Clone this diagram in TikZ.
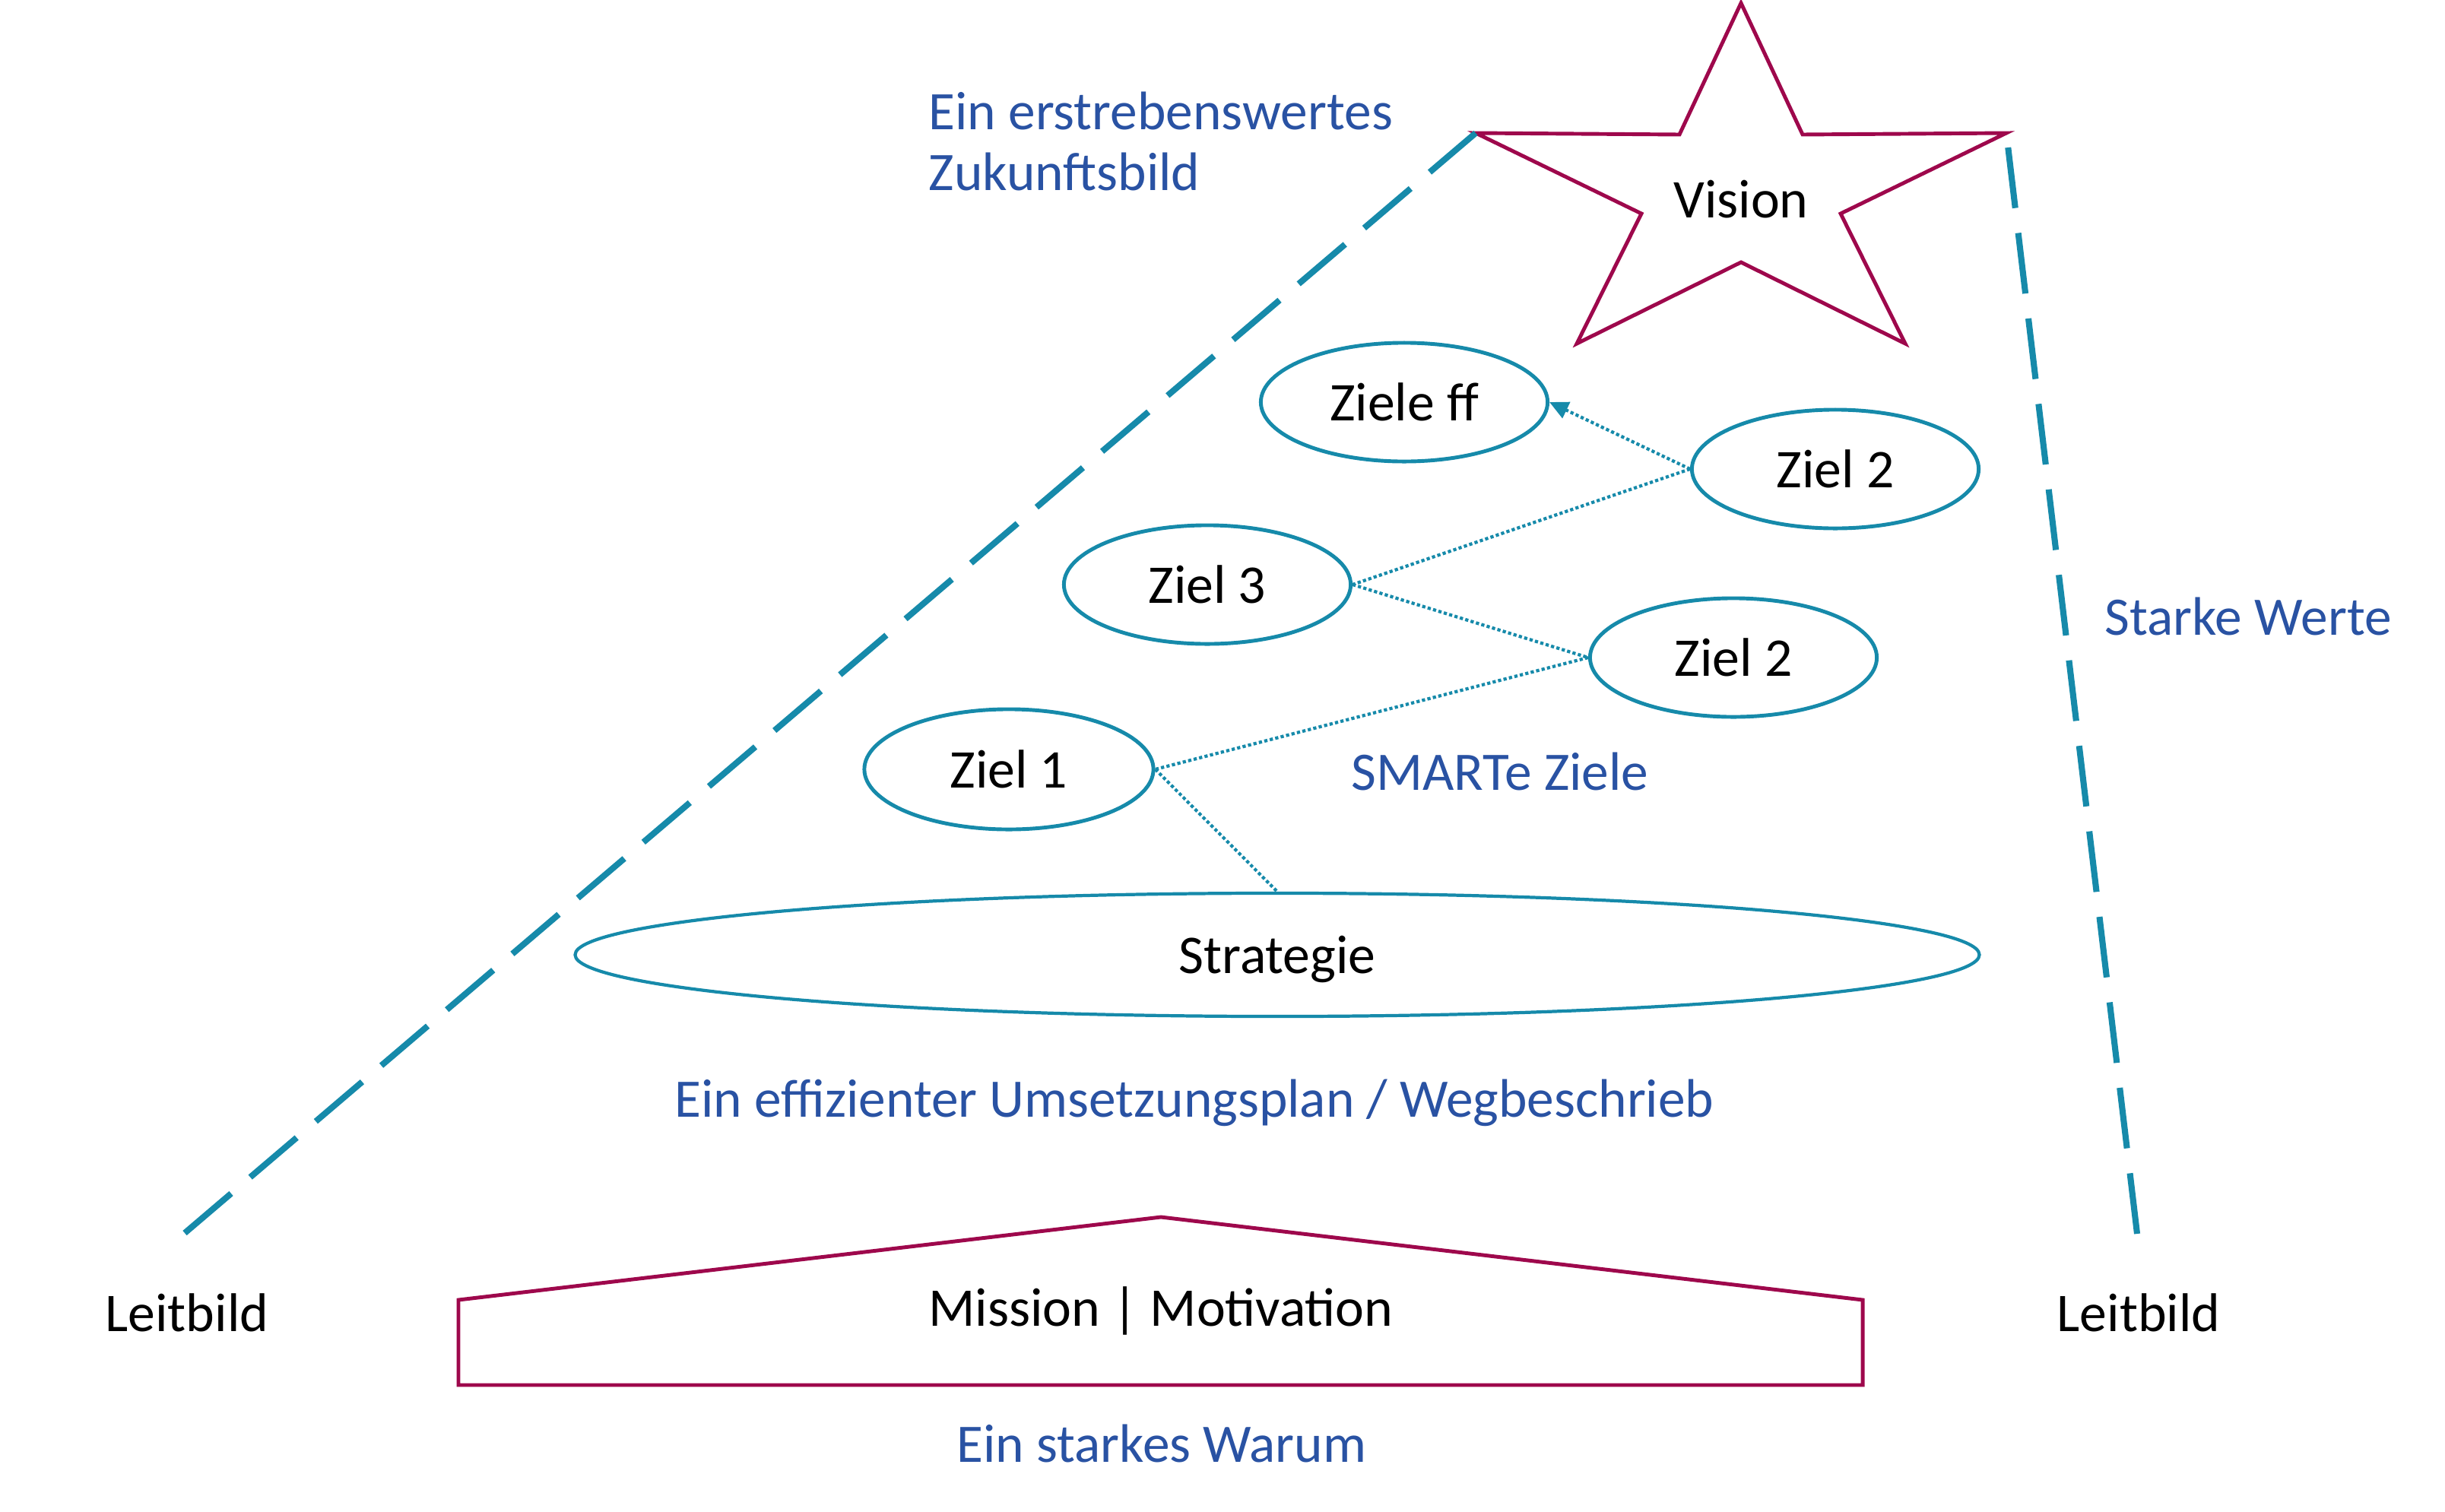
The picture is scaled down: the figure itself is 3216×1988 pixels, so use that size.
\documentclass[tikz,border=0pt]{standalone}
\usepackage{fontspec}
\setmainfont{Carlito}
\usetikzlibrary{shapes.geometric,arrows.meta}
\definecolor{tealline}{RGB}{22,138,170}
\definecolor{bluetxt}{RGB}{41,82,163}
\definecolor{magline}{RGB}{158,8,76}
\begin{document}
\begin{tikzpicture}[x=0.01cm,y=-0.01cm,
  goal/.style={ellipse, draw=tealline, line width=1.4pt, inner sep=0pt, text depth=0pt,
    minimum width=3.77cm, minimum height=1.56cm, font=\fontsize{20.4}{24}\selectfont},
  conn/.style={draw=tealline, line width=1.2pt, dash pattern=on 1.2pt off 0.9pt},
  frame/.style={draw=tealline, line width=2.3pt, dash pattern=on 22.8pt off 9.4pt},
  outline/.style={draw=magline, line width=1.4pt, line join=miter},
  blacktext/.style={font=\fontsize{20.4}{24}\selectfont, inner sep=0pt},
  bluetext/.style={text=bluetxt, font=\fontsize{20.3}{22.5}\selectfont, inner sep=0pt},
]
\useasboundingbox (0,0) rectangle (3216,1988);

% star (Vision)
\coordinate (tipL) at (1941,175);
\coordinate (tipR) at (2639,175);
\draw[outline] (2290,4) -- (2371,177) -- (tipR) -- (2421,281) -- (2506,452)
  -- (2290,345) -- (2074,452) -- (2159,281) -- (tipL) -- (2209,177) -- cycle;
\node[blacktext, anchor=base] (vision) at (2290,286) {Vision};

% frame lines
\coordinate (baseL) at (243,1622);
\coordinate (baseR) at (2811,1623);
\draw[frame] (baseL) -- (tipL);
\draw[frame] (baseR) -- (tipR);

% goals
\node[goal] (zff) at (1847,529) {Ziele ff};
\node[goal] (z2a) at (2414,617) {Ziel 2};
\node[goal] (z3) at (1588,769) {Ziel 3};
\node[goal] (z2b) at (2280,865) {Ziel 2};
\node[goal, minimum width=3.8cm, minimum height=1.58cm] (z1) at (1327,1012) {Ziel 1};
\node[goal, minimum width=18.46cm, minimum height=1.62cm, line width=1.2pt] (strat) at (1680,1256) {Strategie};

\draw[conn, -{Triangle[length=7pt,width=6.5pt]}] (z2a.west) -- (zff.east);
\draw[conn] (z2a.west) -- (z3.east);
\draw[conn] (z3.east) -- (z2b.west);
\draw[conn] (z2b.west) -- (z1.east);
\draw[conn] (z1.east) -- (strat.north);

% house (Mission)
\draw[outline] (603,1822) -- (603,1710) -- (1527,1601) -- (2450,1710) -- (2450,1822) -- cycle;
\node[blacktext, anchor=base] (mission) at (1527,1744) {Mission | Motivation};

% texts
\node[bluetext, anchor=base west, align=left] (zukunft) at (1221,250) {Ein erstrebenswertes\\Zukunftsbild};
\node[bluetext, anchor=base west] (werte) at (2768,835) {Starke Werte};
\node[bluetext, anchor=base west] (smart) at (1777,1039) {SMARTe Ziele};
\node[bluetext, anchor=base] (plan) at (1571,1469) {Ein effizienter Umsetzungsplan / Wegbeschrieb};
\node[bluetext, anchor=base] (warum) at (1528,1923) {Ein starkes Warum};
\node[blacktext, anchor=base] (leitL) at (246,1751) {Leitbild};
\node[blacktext, anchor=base] (leitR) at (2813,1751) {Leitbild};
\end{tikzpicture}
\end{document}
